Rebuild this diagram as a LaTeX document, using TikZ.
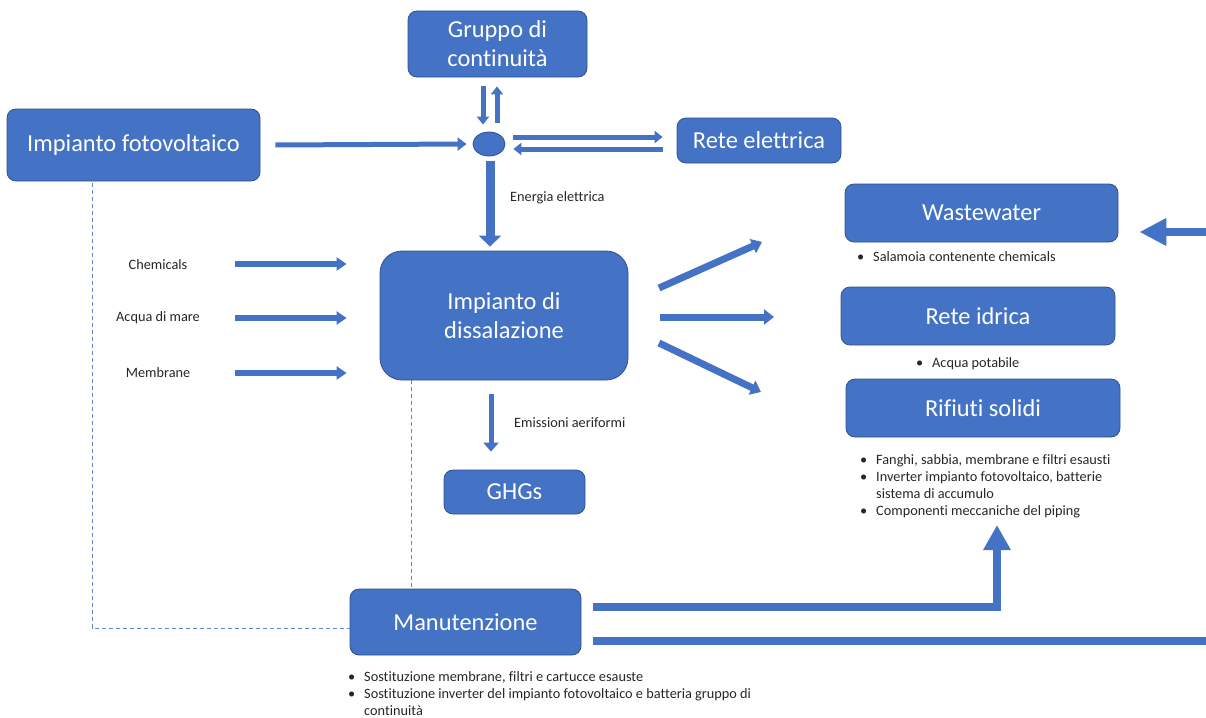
\documentclass[tikz,border=0pt]{standalone}
\usepackage{fontspec}
\setmainfont{Carlito}[Ligatures=NoCommon]
\usetikzlibrary{arrows.meta,shapes.geometric}
\definecolor{boxblue}{HTML}{4472C4}
\definecolor{boxedge}{HTML}{2F528F}
\definecolor{txt}{HTML}{262626}

\tikzset{
  box/.style={draw=boxedge, line width=0.8pt, fill=boxblue, rounded corners=9pt,
    text=white, font=\fontsize{24.4}{29}\selectfont, align=center, inner sep=0pt},
  small/.style={text=txt, font=\fontsize{14.3}{17}\selectfont, inner sep=0pt},
  barrow/.style args={#1/#2/#3}{draw=boxblue, line width=#1pt,
    -{Triangle[width=#2pt,length=#3pt]}},
  bar/.style={draw=boxblue, line width=8pt},
  link/.style={draw=boxblue!85, line width=0.8pt, dash pattern=on 4pt off 3pt},
}
\newcommand{\bulletlist}[1]{\begin{tabular}{@{}p{16pt}@{}l@{}}#1\end{tabular}}

\begin{document}
\begin{tikzpicture}[x=1pt,y=-1pt]
\useasboundingbox (0,0) rectangle (1206,717);

% main blocks
\node[box, minimum width=179, minimum height=66] (ups) at (497.5,44) {Gruppo di\\continuità};
\node[box, minimum width=253, minimum height=72] (pv) at (133.5,145) {Impianto fotovoltaico};
\node[box, minimum width=164, minimum height=45] (grid) at (759,140.5) {Rete elettrica};
\node[box, minimum width=273, minimum height=58] (ww) at (981.5,213) {Wastewater};
\node[box, minimum width=274, minimum height=58] (wnet) at (978,316) {Rete idrica};
\node[box, minimum width=274, minimum height=58] (solid) at (983,408) {Rifiuti solidi};
\node[box, minimum width=248, minimum height=129, rounded corners=22pt] (desal) at (504,315.5) {Impianto di\\dissalazione};
\node[box, minimum width=141, minimum height=44] (ghg) at (514.5,492) {GHGs};
\node[box, minimum width=231, minimum height=66] (maint) at (465.5,622) {Manutenzione};

% junction of the electric flows
\node[ellipse, fill=boxblue, draw=boxedge, line width=0.8pt, minimum width=32, minimum height=24, inner sep=0pt] (hub) at (489,144) {};

% input labels
\node[small] (chem) at (158,265) {Chemicals};
\node[small] (sea) at (158,318) {Acqua di mare};
\node[small] (memb) at (158,373) {Membrane};
\node[small, anchor=west] (elab) at (510,198) {Energia elettrica};
\node[small, anchor=west] (emlab) at (514,423) {Emissioni aeriformi};

% bullet notes
\node[small, anchor=west] (wwnote) at (857,258) {\bulletlist{•& Salamoia contenente chemicals}};
\node[small, anchor=west] (wnnote) at (916,364) {\bulletlist{•& Acqua potabile}};
\node[small, anchor=north west] (solnote) at (860,452) {\bulletlist{%
  •& Fanghi, sabbia, membrane e filtri esausti\\
  •& Inverter impianto fotovoltaico, batterie\\
   & sistema di accumulo\\
  •& Componenti meccaniche del piping}};
\node[small, anchor=north west] (mnote) at (348,669) {\bulletlist{%
  •& Sostituzione membrane, filtri e cartucce esauste\\
  •& Sostituzione inverter del impianto fotovoltaico e batteria gruppo di\\
   & continuità}};

% electric flows
\draw[barrow=5/13/9] ([xshift=15pt]pv.east) -- ([xshift=-6pt]hub.west);
\draw[barrow=5/12/8] ([xshift=-14.5pt,yshift=-9pt]ups.south) -- ([xshift=-6pt,yshift=7pt]hub.north);
\draw[barrow=5/12/8] ([xshift=8pt,yshift=9pt]hub.north) -- ([xshift=-0.5pt,yshift=-9pt]ups.south);
\draw[barrow=5/12/8] ([xshift=8pt,yshift=7pt]hub.east) -- ([xshift=-14pt,yshift=3.5pt]grid.west);
\draw[barrow=5/12/8] ([xshift=-14pt,yshift=-8.5pt]grid.west) -- ([xshift=8pt,yshift=-5pt]hub.east);
\draw[barrow=9/22/11] ([xshift=1pt,yshift=-5pt]hub.south) -- ([xshift=-14pt,yshift=4pt]desal.north);

% material inputs
\coordinate (chemIn) at (235,264);
\coordinate (seaIn) at (235,318);
\coordinate (membIn) at (235,373);
\draw[barrow=6/13/10] (chemIn) -- ([xshift=-33pt]chemIn -| desal.west);
\draw[barrow=6/13/10] (seaIn) -- ([xshift=-33pt]seaIn -| desal.west);
\draw[barrow=6/13/10] (membIn) -- ([xshift=-33pt]membIn -| desal.west);

% outputs of the plant
\coordinate (o1s) at (659,288);
\coordinate (o1e) at (762,242);
\coordinate (o2s) at (660,317);
\coordinate (o2e) at (774,317);
\coordinate (o3s) at (659,343);
\coordinate (o3e) at (761,392);
\draw[barrow=7/15/10] (o1s) -- (o1e);
\draw[barrow=7/15/10] (o2s) -- (o2e);
\draw[barrow=7/15/10] (o3s) -- (o3e);
\draw[barrow=5/15/9] ([xshift=-13pt,yshift=-14pt]desal.south) -- ([xshift=-23.5pt,yshift=18pt]ghg.north);

% maintenance flows
\coordinate (solidIn) at (997,525);
\coordinate (rightEdgeLow) at (1206,641);
\coordinate (rightEdgeWW) at (1206,232);
\draw[bar, line join=miter, -{Triangle[width=26pt,length=25pt]}] ([xshift=12pt,yshift=15pt]maint.east) -| (solidIn);
\draw[bar] ([xshift=12pt,yshift=-19pt]maint.east) -- (rightEdgeLow);
\draw[bar, -{Triangle[width=26pt,length=27pt]}] (rightEdgeWW) -- ([xshift=21pt,yshift=-19pt]ww.east);

% maintenance links
\draw[link] ([xshift=-41.5pt,yshift=-2pt]pv.south) |- ([yshift=-6pt]maint.west);
\draw[link] ([xshift=-93pt]desal.south) -- ([xshift=-54.5pt]maint.north);
\end{tikzpicture}
\end{document}
